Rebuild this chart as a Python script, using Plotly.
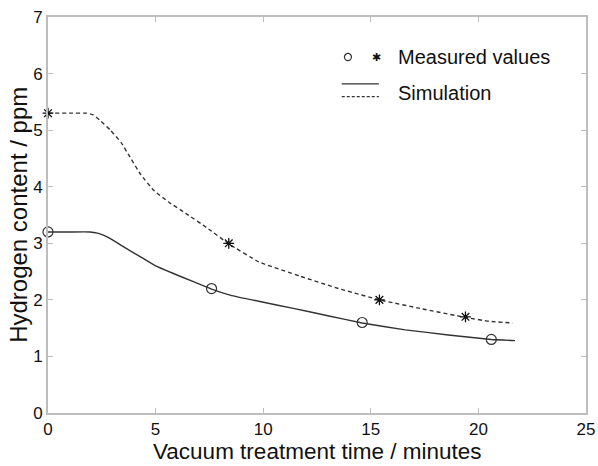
import plotly.graph_objects as go

# Measured values
circ_x = [0, 7.6, 14.6, 20.6]
circ_y = [3.2, 2.2, 1.6, 1.3]
star_x = [0, 8.4, 15.4, 19.4]
star_y = [5.3, 3.0, 2.0, 1.7]

# Simulation curves
sim_solid_x = [0, 1, 1.95, 2.3, 2.6, 3.0, 3.5, 4.3, 5.0, 5.8, 6.7, 7.6, 8.5, 9.85, 11.4, 13.0, 14.6, 16.6, 18.6, 20.6, 21.7]
sim_solid_y = [3.2, 3.2, 3.2, 3.18, 3.14, 3.06, 2.94, 2.76, 2.6, 2.47, 2.33, 2.19, 2.08, 1.97, 1.85, 1.72, 1.59, 1.47, 1.38, 1.3, 1.28]
sim_dash_x = [0, 1, 1.8, 2.1, 2.4, 2.9, 3.4, 3.8, 4.3, 4.9, 5.6, 6.4, 7.4, 8.4, 9.8, 11.7, 13.5, 15.4, 17.4, 19.4, 20.5, 21.6]
sim_dash_y = [5.3, 5.3, 5.3, 5.27, 5.18, 5.0, 4.78, 4.53, 4.22, 3.94, 3.73, 3.53, 3.27, 2.99, 2.67, 2.42, 2.2, 2.0, 1.84, 1.69, 1.62, 1.59]

x_ticks = [0, 5, 10, 15, 20, 25]
y_ticks = [0, 1, 2, 3, 4, 5, 6, 7]

x_title = "Vacuum treatment time / minutes"
y_title = "Hydrogen content / ppm"

line_col = "#333333"
axis_col = "#bdbdbd"
text_col = "#111111"
font = "Liberation Sans, Arial, sans-serif"

fig = go.Figure()
fig.add_trace(go.Scatter(x=sim_dash_x, y=sim_dash_y, mode="lines",
                         line=dict(color=line_col, width=1.4, dash="4px,3px", shape="spline", smoothing=0.3),
                         showlegend=False))
fig.add_trace(go.Scatter(x=sim_solid_x, y=sim_solid_y, mode="lines",
                         line=dict(color=line_col, width=1.4, shape="spline", smoothing=0.3),
                         showlegend=False))
fig.add_trace(go.Scatter(x=circ_x, y=circ_y, mode="markers",
                         marker=dict(symbol="circle-open", size=10, color=line_col, line=dict(width=1.2)),
                         showlegend=False, cliponaxis=False))
fig.add_trace(go.Scatter(x=star_x, y=star_y, mode="markers",
                         marker=dict(symbol="asterisk-open", size=9, color=text_col, line=dict(width=1.3, color=text_col)),
                         showlegend=False, cliponaxis=False))

# Custom legend (paper coordinates)
shapes = [
    dict(type="circle", xref="paper", yref="paper", x0=0.551, x1=0.564, y0=0.890, y1=0.908,
         line=dict(color=line_col, width=1.2)),
    dict(type="line", xref="paper", yref="paper", x0=0.546, x1=0.615, y0=0.831, y1=0.831,
         line=dict(color=line_col, width=1.4)),
    dict(type="line", xref="paper", yref="paper", x0=0.546, x1=0.615, y0=0.799, y1=0.799,
         line=dict(color=line_col, width=1.2, dash="3px,2px")),
]
annotations = [
    dict(xref="paper", yref="paper", x=0.61, y=0.899, text="✱", showarrow=False,
         font=dict(family=font, size=11, color=text_col), xanchor="center", yanchor="middle"),
    dict(xref="paper", yref="paper", x=0.647, y=0.899, text="Measured values", showarrow=False,
         font=dict(family=font, size=20, color=text_col), xanchor="left", yanchor="middle"),
    dict(xref="paper", yref="paper", x=0.647, y=0.808, text="Simulation", showarrow=False,
         font=dict(family=font, size=20, color=text_col), xanchor="left", yanchor="middle"),
    # axis titles
    dict(xref="paper", yref="paper", x=0.5, y=-0.1325, text=x_title, showarrow=False,
         font=dict(family=font, size=22.5, color=text_col), xanchor="center", yanchor="bottom",
         borderpad=0),
    dict(xref="paper", yref="paper", x=-0.056, y=0.5, text=y_title, showarrow=False, textangle=-90,
         font=dict(family=font, size=24, color=text_col), xanchor="center", yanchor="middle",
         borderpad=0),
]

axis_common = dict(showline=True, linecolor=axis_col, linewidth=2, mirror="ticks",
                   ticks="inside", ticklen=5, tickcolor=axis_col, tickwidth=1,
                   showgrid=False, zeroline=False, automargin=False,
                   tickfont=dict(family=font, size=17, color=text_col))

fig.update_layout(
    width=598, height=466,
    margin=dict(l=48, r=12, t=17, b=53),
    plot_bgcolor="white", paper_bgcolor="white",
    xaxis=dict(range=[0, 25], tickvals=x_ticks, ticktext=[str(v) for v in x_ticks], **axis_common),
    yaxis=dict(range=[0, 7], tickvals=y_ticks, ticktext=[str(v) for v in y_ticks], **axis_common),
    shapes=shapes, annotations=annotations,
)

fig.write_html("out.html")
